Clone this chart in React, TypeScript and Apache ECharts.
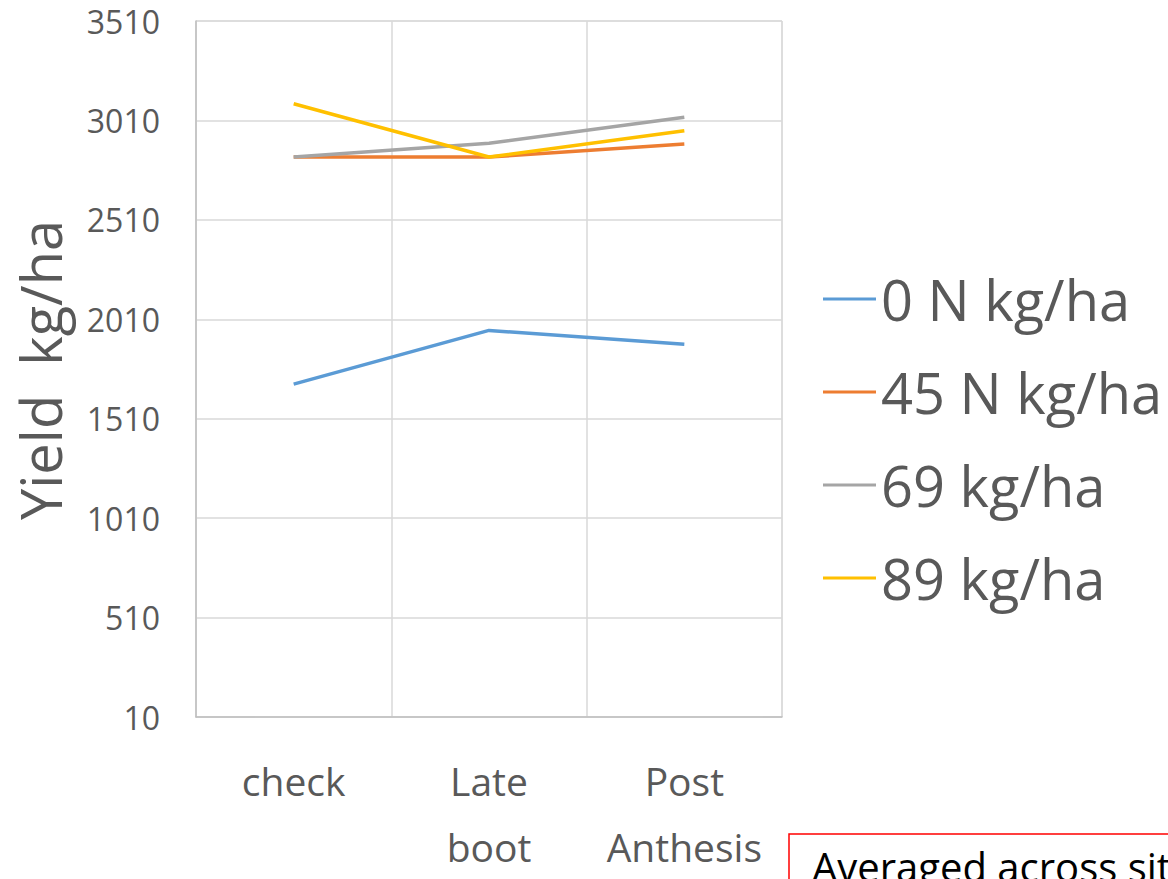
import React, { useEffect, useRef } from "react";
import * as echarts from "echarts";

const categories = ["check", "Late\nboot", "Post\nAnthesis"];
const seriesNames = ["0 N kg/ha", "45 N kg/ha", "69 kg/ha", "89 kg/ha"];
const n0 = [1684, 1954, 1885];
const n45 = [2826, 2826, 2891];
const n69 = [2826, 2895, 3026];
const n89 = [3094, 2826, 2958];
const seriesColors = ["#5B9BD5", "#ED7D31", "#A5A5A5", "#FFC000"];
const yMin = 10;
const yMax = 3510;
const yStep = 500;

const FONT = "'Open Sans', 'Noto Sans', sans-serif";

export default function App() {
  const ref = useRef<HTMLDivElement>(null);
  useEffect(() => {
    if (!ref.current) return;
    document.body.style.margin = "0";
    document.body.style.overflow = "hidden";
    const chart = echarts.init(ref.current, null, { renderer: "svg" });
    const values = [n0, n45, n69, n89];
    chart.setOption({
      animation: false,
      backgroundColor: "#ffffff",
      textStyle: { fontFamily: FONT },
      grid: {
        left: 196,
        right: 386,
        top: 21,
        bottom: 162,
        containLabel: false,
        outerBoundsMode: "none",
        show: true,
        borderColor: "#d9d9d9",
        borderWidth: 1,
      },
      legend: {
        orient: "vertical",
        left: 823,
        top: 268,
        padding: 0,
        icon: "rect",
        itemWidth: 53,
        itemHeight: 3,
        itemGap: 31,
        textStyle: { fontSize: 56, color: "#595959", fontFamily: FONT, lineHeight: 62 },
        data: seriesNames,
      },
      xAxis: {
        type: "category",
        data: categories,
        boundaryGap: true,
        axisLine: { show: true, lineStyle: { color: "#bfbfbf", width: 1.5 } },
        axisTick: { show: false },
        splitLine: { show: true, lineStyle: { color: "#d9d9d9", width: 1.5 } },
        axisLabel: {
          fontSize: 39,
          color: "#595959",
          lineHeight: 66,
          margin: 30,
          fontFamily: FONT,
          interval: 0,
        },
      },
      yAxis: {
        type: "value",
        min: yMin,
        max: yMax,
        interval: yStep,
        axisLine: { show: true, lineStyle: { color: "#bfbfbf", width: 1.5 } },
        axisTick: { show: false },
        splitLine: { show: true, lineStyle: { color: "#d9d9d9", width: 1.5 } },
        axisLabel: {
          fontSize: 32,
          color: "#595959",
          margin: 36,
          fontFamily: FONT,
          formatter: (v: number) => String(Math.round(v)),
        },
      },
      series: seriesNames.map((name, i) => ({
        name,
        type: "line",
        data: values[i],
        symbol: "none",
        lineStyle: { color: seriesColors[i], width: 3.5 },
        itemStyle: { color: seriesColors[i] },
      })),
      graphic: [
        {
          type: "text",
          x: 40,
          y: 370,
          rotation: Math.PI / 2,
          style: {
            text: "Yield  kg/ha",
            fontSize: 56,
            fontFamily: FONT,
            fill: "#595959",
            align: "center",
            verticalAlign: "middle",
          },
        },
        {
          type: "rect",
          shape: { x: 789, y: 834, width: 500, height: 100 },
          style: { fill: "#ffffff", stroke: "#ff0000", lineWidth: 1.5 },
        },
        {
          type: "text",
          x: 812,
          y: 846,
          style: {
            text: "Averaged across sites",
            fontSize: 40,
            fontFamily: FONT,
            fill: "#000000",
            align: "left",
            verticalAlign: "top",
          },
        },
      ],
    });
    return () => chart.dispose();
  }, []);
  return (
    <div
      ref={ref}
      style={{ position: "fixed", left: 0, top: 0, width: 1168, height: 879 }}
    />
  );
}
